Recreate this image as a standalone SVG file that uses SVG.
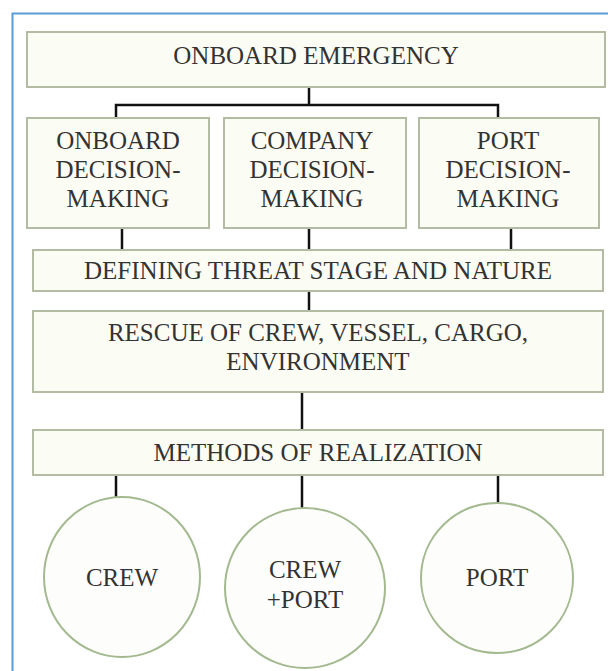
<svg xmlns="http://www.w3.org/2000/svg" width="608" height="671" viewBox="0 0 608 671">
<style>
.box{fill:#fbfcf3;stroke:#b3bca3;stroke-width:2}
.circ{fill:#fdfefb;stroke:#a3b98f;stroke-width:2}
text{font-family:"Times New Roman","Liberation Serif","DejaVu Serif",serif;font-size:25px;fill:#333;text-anchor:middle}
.c{stroke:#111;stroke-width:2.5;fill:none}
</style>
<rect width="608" height="671" fill="#fff"/>
<path d="M12.5 671 V13.5 H608" fill="none" stroke="#5b9bd5" stroke-width="2"/>
<g id="connectors">
<path class="c" d="M309 87 V105 M116 118 V105 H498 V118"/>
<path class="c" d="M122 228 V250 M309 228 V250 M511 228 V250"/>
<path class="c" d="M309 291 V311"/>
<path class="c" d="M302 392 V430"/>
<path class="c" d="M116 475 V498 M302 475 V508 M498 475 V508"/>
</g>
<g font-family="Liberation Serif, serif">
<g id="n1"><rect class="box" x="27" y="32" width="578" height="55"/><text x="316" y="64">ONBOARD EMERGENCY</text></g>
<g id="n2"><rect class="box" x="27" y="118" width="182" height="110"/><text x="118" y="149">ONBOARD</text><text x="118" y="178">DECISION-</text><text x="118" y="207">MAKING</text></g>
<g id="n3"><rect class="box" x="224" y="118" width="182" height="110"/><text x="312" y="149">COMPANY</text><text x="312" y="178">DECISION-</text><text x="312" y="207">MAKING</text></g>
<g id="n4"><rect class="box" x="419" y="118" width="180" height="110"/><text x="508" y="149">PORT</text><text x="508" y="178">DECISION-</text><text x="508" y="207">MAKING</text></g>
<g id="n5"><rect class="box" x="33" y="250" width="570" height="41"/><text x="318" y="279">DEFINING THREAT STAGE AND NATURE</text></g>
<g id="n6"><rect class="box" x="33" y="311" width="570" height="81"/><text x="318" y="341">RESCUE OF CREW, VESSEL, CARGO,</text><text x="318" y="370">ENVIRONMENT</text></g>
<g id="n7"><rect class="box" x="33" y="430" width="570" height="45"/><text x="318" y="461">METHODS OF REALIZATION</text></g>
<g id="n8"><ellipse class="circ" cx="122" cy="577" rx="78" ry="80"/><text x="122" y="586">CREW</text></g>
<g id="n9"><ellipse class="circ" cx="305" cy="588" rx="80" ry="80"/><text x="305" y="578">CREW</text><text x="305" y="608">+PORT</text></g>
<g id="n10"><ellipse class="circ" cx="497" cy="578" rx="76" ry="75"/><text x="497" y="586">PORT</text></g>
</g>
</svg>
